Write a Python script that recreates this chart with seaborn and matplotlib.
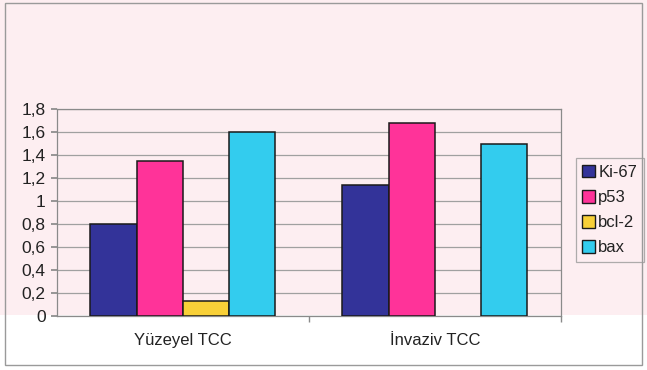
import matplotlib
matplotlib.use("Agg")
import matplotlib.pyplot as plt
import matplotlib.patches as mpatches
from matplotlib.ticker import FuncFormatter, MultipleLocator
import seaborn as sns
import pandas as pd
import numpy as np

groups = ["Yüzeyel TCC", "İnvaziv TCC"]
markers = ["Ki-67", "p53", "bcl-2", "bax"]
ki67 = [0.80, 1.14]
p53 = [1.35, 1.68]
bcl2 = [0.13, np.nan]
bax = [1.60, 1.50]
colors = ["#333399", "#ff3399", "#f8d038", "#33ccee"]

rows = []
for name, vals in zip(markers, [ki67, p53, bcl2, bax]):
    for g, v in zip(groups, vals):
        rows.append({"grup": g, "belirteç": name, "değer": v})
df = pd.DataFrame(rows)

sns.set_theme(style="white")
plt.rcParams["font.family"] = ["Liberation Sans", "DejaVu Sans"]

fig = plt.figure(figsize=(6.47, 3.70), dpi=100)
fig.patch.set_facecolor("white")

# faint pink background (scan watermark tone)
fig.patches.append(mpatches.Rectangle((0.0, 0.15), 1.0, 0.85, transform=fig.transFigure,
                                      facecolor="#fdeef1", edgecolor="none", zorder=-10))
# outer chart border
fig.patches.append(mpatches.Rectangle((0.008, 0.013), 0.985, 0.98, transform=fig.transFigure,
                                      facecolor="none", edgecolor="#9a9a9a", linewidth=1.0, zorder=5))

ax = fig.add_axes([0.088, 0.146, 0.779, 0.559])
ax.set_facecolor("none")

sns.barplot(data=df, x="grup", y="değer", hue="belirteç", order=groups, hue_order=markers,
            palette=colors, saturation=1, width=0.734, edgecolor="#1a1a1a", linewidth=1.1,
            errorbar=None, ax=ax, zorder=3)

ax.set_ylim(0, 1.8)
ax.set_xlim(-0.5, 1.5)
ax.yaxis.set_major_locator(MultipleLocator(0.2))
ax.yaxis.set_major_formatter(FuncFormatter(lambda v, p: ("%g" % round(v, 1)).replace(".", ",")))
ax.grid(axis="y", color="#a0a0a0", linewidth=0.9, zorder=0)
ax.set_axisbelow(True)
for s in ax.spines.values():
    s.set_visible(True)
    s.set_color("#8a8a8a")
    s.set_linewidth(0.9)
ax.set_xlabel("")
ax.set_ylabel("")
ax.tick_params(axis="y", labelsize=12.5, colors="#8a8a8a", labelcolor="#222222",
               length=4, direction="out", left=True, pad=4)
ax.tick_params(axis="x", labelsize=12, labelcolor="#222222", length=0, pad=12)
ax.set_xticks([0, 1], minor=False)
ax.set_xticks([0.5, 1.5], minor=True)
ax.tick_params(axis="x", which="minor", length=4, colors="#8a8a8a", bottom=True)

leg = ax.legend(loc="upper left", bbox_to_anchor=(0.89, 0.573), bbox_transform=fig.transFigure,
                frameon=True, fancybox=False, edgecolor="#9a9a9a", fontsize=12,
                handlelength=0.75, handleheight=0.8, handletextpad=0.2,
                labelspacing=0.6, borderpad=0.4, borderaxespad=0)
leg.get_frame().set_linewidth(0.9)
leg.get_frame().set_facecolor("none")
for h in leg.legend_handles:
    h.set_edgecolor("#1a1a1a")
    h.set_linewidth(1.0)
for t in leg.get_texts():
    t.set_color("#222222")

fig.savefig("out.png", dpi=100)
